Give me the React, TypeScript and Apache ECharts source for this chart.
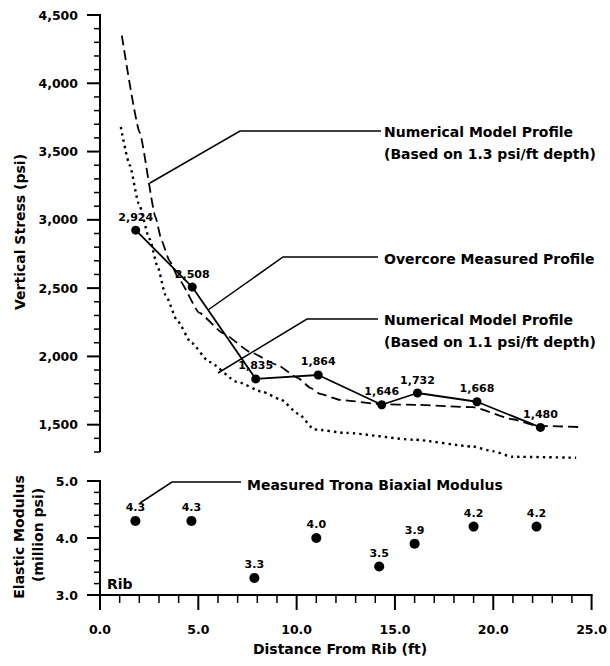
import React, { useEffect, useRef } from "react";
import * as echarts from "echarts";

// ---- data ----
const distanceFt = [1.8, 4.65, 7.85, 11.0, 14.2, 16.0, 19.0, 22.2];
const overcoreStress = [2924, 2508, 1835, 1864, 1646, 1732, 1668, 1480];
const modulusMillionPsi = [4.3, 4.3, 3.3, 4.0, 3.5, 3.9, 4.2, 4.2];

const model13X = [1.1, 2.0, 2.8, 3.1, 3.5, 4.0, 5.0, 6.2, 7.6, 8.9, 10.0, 10.6, 11.1, 12.1, 14.1, 16.0, 18.8, 20.8, 22.0, 24.3];
const model13Stress = [4350, 3640, 3020, 2850, 2700, 2560, 2320, 2170, 2030, 1940, 1840, 1770, 1725, 1682, 1650, 1645, 1628, 1540, 1492, 1482];

const model11X = [1.05, 1.5, 1.95, 2.5, 2.9, 3.3, 3.9, 4.6, 5.5, 6.9, 8.2, 9.1, 10.0, 10.8, 12.4, 15.8, 18.8, 19.8, 20.8, 24.0];
const model11Stress = [3680, 3400, 3120, 2860, 2660, 2450, 2260, 2100, 1960, 1815, 1740, 1685, 1580, 1465, 1440, 1390, 1340, 1305, 1265, 1258];

// axis ranges / tick steps
const stressAxisMin = 1300;
const stressAxisMax = 4500;
const stressLabelMin = 1500;
const stressMajorStep = 500;
const stressMinorStep = 100;
const modulusMin = 3;
const modulusMax = 5;
const modulusMajorStep = 1;
const modulusMinorStep = 0.2;
const distMin = 0;
const distMax = 25;
const distMajorStep = 5;
const distMinorStep = 1;

const FONT = "DejaVu Sans";
const fmtThousands = (v: number) => Math.round(v).toLocaleString("en-US");

const steps = (min: number, max: number, step: number) => {
  const n = Math.round((max - min) / step);
  const out: number[] = [];
  for (let i = 0; i <= n; i++) out.push(+(min + i * step).toFixed(6));
  return out;
};
const isMultiple = (v: number, step: number) => Math.abs(v / step - Math.round(v / step)) < 1e-6;

export default function App() {
  const ref = useRef<HTMLDivElement>(null);

  useEffect(() => {
    document.body.style.margin = "0";
    if (!ref.current) return;
    const chart = echarts.init(ref.current, null, { renderer: "svg" });

    const plotLeft = 100;
    const plotWidth = 496;
    const topY = 15;
    const topH = 437;
    const botY = 481;
    const botH = 114;
    const pxPerPsi = topH / (stressAxisMax - stressAxisMin);
    const labelledH = (stressAxisMax - stressLabelMin) * pxPerPsi;

    const lbl = () => ({ color: "#000", fontFamily: FONT, fontWeight: "bold", fontSize: 12.5 });
    const noLine = { show: false };

    const txt = (text: string, x: number, y: number, opts: any = {}) => ({
      type: "text",
      x,
      y,
      rotation: opts.rotation || 0,
      silent: true,
      style: {
        text,
        fill: "#000",
        font: `bold ${opts.size || 14}px "${FONT}"`,
        align: opts.align || "left",
        verticalAlign: "middle",
      },
    });
    const pl = (points: number[][]) => ({
      type: "polyline",
      silent: true,
      shape: { points },
      style: { stroke: "#000", lineWidth: 1.5, fill: null },
    });
    // straight axis strokes drawn as thin filled rectangles
    const hbar = (x1: number, x2: number, y: number, w: number) => ({
      type: "rect",
      silent: true,
      shape: { x: Math.min(x1, x2), y: y - w / 2, width: Math.abs(x2 - x1), height: w },
      style: { fill: "#000" },
    });
    const vbar = (x: number, y1: number, y2: number, w: number) => ({
      type: "rect",
      silent: true,
      shape: { x: x - w / 2, y: Math.min(y1, y2), width: w, height: Math.abs(y2 - y1) },
      style: { fill: "#000" },
    });

    const option: any = {
      animation: false,
      grid: [
        { left: plotLeft, top: topY, width: plotWidth, height: topH },
        { left: plotLeft, top: botY, width: plotWidth, height: botH },
        { left: plotLeft, top: topY, width: plotWidth, height: labelledH },
      ],
      xAxis: [
        { type: "value", gridIndex: 0, min: distMin, max: distMax, show: false },
        {
          type: "value",
          gridIndex: 1,
          min: distMin,
          max: distMax,
          interval: distMajorStep,
          axisLine: noLine,
          axisTick: noLine,
          axisLabel: { ...lbl(), margin: 28, formatter: (v: number) => v.toFixed(1) },
          splitLine: noLine,
        },
        { type: "value", gridIndex: 2, min: distMin, max: distMax, show: false },
      ],
      yAxis: [
        {
          type: "value",
          gridIndex: 0,
          min: stressAxisMin,
          max: stressAxisMax,
          interval: stressMinorStep,
          axisLine: noLine,
          axisTick: noLine,
          axisLabel: { show: false },
          splitLine: noLine,
        },
        {
          type: "value",
          gridIndex: 1,
          min: modulusMin,
          max: modulusMax,
          interval: modulusMajorStep,
          axisLine: noLine,
          axisTick: noLine,
          axisLabel: { ...lbl(), margin: 22, formatter: (v: number) => v.toFixed(1) },
          splitLine: noLine,
        },
        {
          type: "value",
          gridIndex: 2,
          min: stressLabelMin,
          max: stressAxisMax,
          interval: stressMajorStep,
          axisLine: noLine,
          axisTick: noLine,
          axisLabel: { ...lbl(), margin: 22, formatter: (v: number) => fmtThousands(v) },
          splitLine: noLine,
        },
      ],
      series: [
        {
          type: "line",
          xAxisIndex: 0,
          yAxisIndex: 0,
          clip: false,
          symbol: "none",
          smooth: 0.2,
          smoothMonotone: "x",
          data: model11X.map((x, i) => [x, model11Stress[i]]),
          lineStyle: { color: "#000", width: 2.4, type: [2.4, 4] },
          z: 2,
        },
        {
          type: "line",
          xAxisIndex: 0,
          yAxisIndex: 0,
          clip: false,
          symbol: "none",
          smooth: 0.15,
          smoothMonotone: "x",
          data: model13X.map((x, i) => [x, model13Stress[i]]),
          lineStyle: { color: "#000", width: 1.8, type: [10, 5] },
          z: 3,
        },
        {
          type: "line",
          xAxisIndex: 0,
          yAxisIndex: 0,
          symbol: "circle",
          symbolSize: 9,
          data: distanceFt.map((x, i) => [x, overcoreStress[i]]),
          itemStyle: { color: "#000", opacity: 1 },
          lineStyle: { color: "#000", width: 1.8 },
          label: {
            show: true,
            position: "top",
            distance: 3,
            color: "#000",
            fontFamily: FONT,
            fontWeight: "bold",
            fontSize: 11,
            formatter: (p: any) => fmtThousands(p.value[1]),
          },
          z: 5,
        },
        {
          type: "scatter",
          xAxisIndex: 1,
          yAxisIndex: 1,
          symbol: "circle",
          symbolSize: 10,
          data: distanceFt.map((x, i) => [x, modulusMillionPsi[i]]),
          itemStyle: { color: "#000", opacity: 1 },
          label: {
            show: true,
            position: "top",
            distance: 3,
            color: "#000",
            fontFamily: FONT,
            fontWeight: "bold",
            fontSize: 11,
            formatter: (p: any) => Number(p.value[1]).toFixed(1),
          },
        },
      ],
    };

    chart.setOption(option);

    const P = (g: number, x: number, y: number): number[] => {
      const r: any = chart.convertToPixel({ gridIndex: g } as any, [x, y]);
      if (r && isFinite(r[0]) && isFinite(r[1])) return [r[0], r[1]];
      const rects = [
        [plotLeft, topY, plotWidth, topH, stressAxisMin, stressAxisMax],
        [plotLeft, botY, plotWidth, botH, modulusMin, modulusMax],
      ];
      const [gl, gt, gw, gh, ymin, ymax] = rects[g];
      return [gl + ((x - distMin) / (distMax - distMin)) * gw, gt + ((ymax - y) / (ymax - ymin)) * gh];
    };
    const axes: any[] = [];

    // stress axis (top panel)
    {
      const [ax, yTop] = P(0, distMin, stressAxisMax);
      const [, yBot] = P(0, distMin, stressAxisMin);
      axes.push(vbar(ax, yTop - 1, yBot, 2));
      steps(stressAxisMin, stressAxisMax, stressMinorStep).forEach((v) => {
        const [, y] = P(0, distMin, v);
        const major = isMultiple(v, stressMajorStep) && v >= stressLabelMin;
        axes.push(hbar(ax - (major ? 13 : 6), ax, y, major ? 2 : 1.5));
      });
    }
    // modulus axis (bottom panel)
    {
      const [ax, yTop] = P(1, distMin, modulusMax);
      const [, yBot] = P(1, distMin, modulusMin);
      axes.push(vbar(ax, yTop - 1, yBot, 2));
      steps(modulusMin, modulusMax, modulusMinorStep).forEach((v) => {
        const [, y] = P(1, distMin, v);
        const major = isMultiple(v, modulusMajorStep);
        axes.push(hbar(ax - (major ? 13 : 6), ax, y, major ? 2 : 1.5));
      });
    }
    // distance axis
    {
      const [xL, ay] = P(1, distMin, modulusMin);
      const [xR] = P(1, distMax, modulusMin);
      axes.push(hbar(xL - 1, xR + 1, ay, 2));
      steps(distMin, distMax, distMinorStep).forEach((v) => {
        const [x] = P(1, v, modulusMin);
        const major = isMultiple(v, distMajorStep);
        axes.push(vbar(x, ay, ay + (major ? 15 : 8), major ? 2 : 1.5));
      });
    }

    const notes: any[] = [
      pl([[150, 183], [240, 131], [381, 131]]),
      txt("Numerical Model Profile", 384, 132),
      txt("(Based on 1.3 psi/ft depth)", 384, 154),
      pl([[208, 310], [283, 257], [378, 257]]),
      txt("Overcore Measured Profile", 384, 259),
      pl([[218, 373], [307, 319], [378, 319]]),
      txt("Numerical Model Profile", 384, 320),
      txt("(Based on 1.1 psi/ft depth)", 384, 342),
      pl([[140, 503], [172, 482], [241, 482]]),
      txt("Measured Trona Biaxial Modulus", 247, 485),
      txt("Rib", 107, 584),
      txt("Vertical Stress (psi)", 20, 232, { rotation: Math.PI / 2, align: "center" }),
      txt("Elastic Modulus", 19, 537, { rotation: Math.PI / 2, align: "center" }),
      txt("(million psi)", 38, 535, { rotation: Math.PI / 2, align: "center" }),
      txt("Distance From Rib (ft)", 340, 649, { align: "center" }),
    ];

    chart.setOption({ graphic: { elements: [...axes, ...notes] } });
    return () => chart.dispose();
  }, []);

  return (
    <div
      ref={ref}
      style={{ position: "absolute", left: 0, top: 0, width: 610, height: 666, background: "#fff" }}
    />
  );
}
